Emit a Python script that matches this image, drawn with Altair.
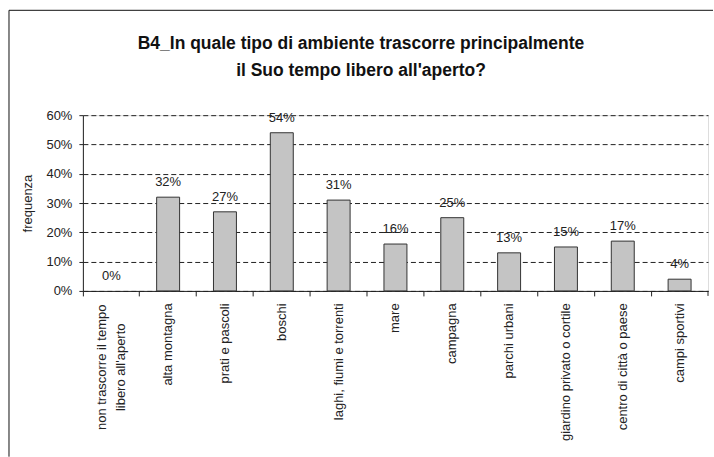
import altair as alt
import pandas as pd

# Survey answers: share of respondents per outdoor environment
categories = [
    "non trascorre il tempo\nlibero all'aperto",
    "alta montagna",
    "prati e pascoli",
    "boschi",
    "laghi, fiumi e torrenti",
    "mare",
    "campagna",
    "parchi urbani",
    "giardino privato o cortile",
    "centro di città o paese",
    "campi sportivi",
]
percent_values = [0, 32, 27, 54, 31, 16, 25, 13, 15, 17, 4]
y_tick_values = [0, 0.1, 0.2, 0.3, 0.4, 0.5, 0.6]
title_lines = [
    "B4_In quale tipo di ambiente trascorre principalmente",
    "il Suo tempo libero all'aperto?",
]

FONT = "Liberation Sans"
W, H = 626, 176
LINE_H = 19

# two-line category labels are centred on their tick, single-line ones hang from the axis
MULTI = "indexof(datum.value, '\\n') >= 0"

df = pd.DataFrame({
    "ambiente": categories,
    "frequenza": [v / 100 for v in percent_values],
})

x_enc = alt.X(
    "ambiente:N",
    sort=categories,
    scale=alt.Scale(paddingInner=0, paddingOuter=0),
    axis=alt.Axis(
        title=None,
        labelAngle=-90,
        labelAlign={"condition": {"test": MULTI, "value": "center"}, "value": "right"},
        labelBaseline="middle",
        labelExpr="split(datum.value, '\\n')",
        labelLineHeight=LINE_H,
        labelPadding={"condition": {"test": MULTI, "value": 71}, "value": 7},
        labelOffset={"condition": {"test": MULTI, "value": -LINE_H / 2}, "value": 0},
        labelFontSize=13,
        labelColor="#222",
        labelFont=FONT,
        labelLimit=300,
        tickSize=5,
        tickColor="#222",
        domainColor="#222",
        bandPosition=0,
        grid=False,
    ),
)
y_enc = alt.Y(
    "frequenza:Q",
    scale=alt.Scale(domain=[0, 0.6], nice=False),
    axis=alt.Axis(
        title="frequenza",
        titleFont=FONT,
        titleFontSize=13,
        titleFontWeight="normal",
        titleColor="#222",
        titlePadding=11,
        values=y_tick_values,
        format=".0%",
        labelFontSize=13,
        labelFont=FONT,
        labelColor="#222",
        labelPadding=7,
        labelOverlap=False,
        tickSize=4,
        tickColor="#222",
        domainColor="#222",
        grid=True,
        gridColor="#222",
        gridDash=[5, 3],
        gridWidth=1,
    ),
)

base = alt.Chart(df)

bars = base.mark_bar(
    width=alt.RelativeBandSize(0.404),
    fill="#c4c4c4",
    stroke="#333",
    strokeWidth=1,
).encode(
    x=x_enc,
    y=y_enc,
    strokeOpacity=alt.condition(alt.datum.frequenza > 0, alt.value(1), alt.value(0)),
)

labels = base.mark_text(
    baseline="alphabetic",
    dy=-11,
    fontSize=13,
    font=FONT,
    color="#222",
).encode(
    x=x_enc,
    y=y_enc,
    text=alt.Text("frequenza:Q", format=".0%"),
)

one_row = alt.Data(values=[{"k": 0}])

# closing tick at the right end of the category axis
end_tick = alt.Chart(one_row).mark_rule(color="#222").encode(
    x=alt.value(W), y=alt.value(H), y2=alt.value(H + 5)
)

# outer frame (top and left edges)
frame_top = alt.Chart(one_row).mark_rule(color="#111", strokeWidth=1).encode(
    x=alt.value(-74), x2=alt.value(631), y=alt.value(-105)
)
frame_left = alt.Chart(one_row).mark_rule(color="#111", strokeWidth=1).encode(
    x=alt.value(-74), y=alt.value(-105), y2=alt.value(342)
)

chart = (
    alt.layer(bars, labels, end_tick, frame_top, frame_left)
    .properties(
        width=W,
        height=H,
        padding={"left": 8, "top": 9, "right": 0, "bottom": 0},
        title=alt.TitleParams(
            title_lines,
            font=FONT,
            fontSize=17.5,
            fontWeight="bold",
            color="#111",
            anchor="middle",
            frame="bounds",
            lineHeight=27,
            offset=-70,
        ),
    )
    .configure_view(stroke=None)
    .configure(background="white")
)

chart.save("out.html", embed_options={"renderer": "svg", "actions": False})
